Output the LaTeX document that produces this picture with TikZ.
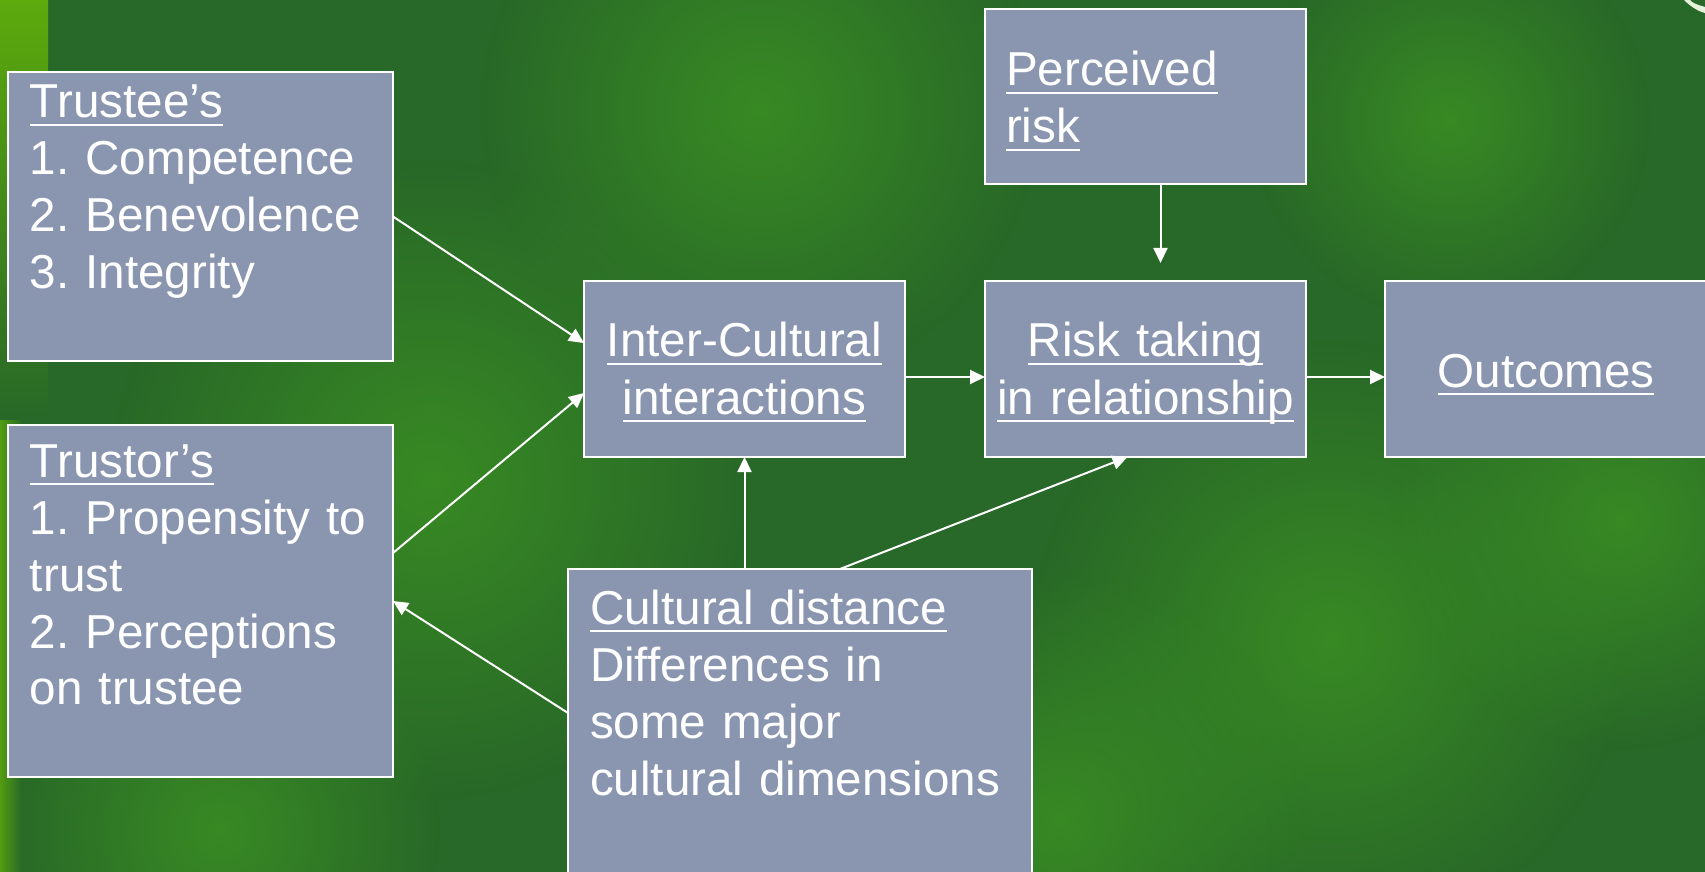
\documentclass[tikz,border=0pt]{standalone}
\usepackage{fontspec}
\setmainfont{Liberation Sans}
\usetikzlibrary{arrows.meta, positioning, fadings}
\definecolor{slide}{RGB}{40, 104, 40}
\definecolor{leaf}{RGB}{56, 138, 36}
\definecolor{lime}{RGB}{92, 170, 12}
\definecolor{boxblue}{RGB}{138, 150, 176}
% underlined heading line, rule sitting just under the baseline
\newcommand{\hdr}[1]{\leavevmode\setbox0\hbox{#1}\rlap{\rule[-4pt]{\wd0}{1pt}}\box0}
\tikzfading[name=glow, inner color=transparent!0, outer color=transparent!100]
\frenchspacing

\begin{document}
\begin{tikzpicture}[
    x=0.5pt, y=-0.5pt,
    block/.style={rectangle, draw=white, line width=1pt, fill=boxblue, text=white, outer sep=0pt, inner ysep=0pt, font=\fontsize{23.8pt}{28.5pt}\selectfont},
    listbox/.style={block, align=left, inner xsep=11pt},
    midbox/.style={block, align=center, inner xsep=2pt, text width=156.5pt, text height=38pt, text depth=50pt},
    arrow/.style={-{Triangle[length=7.5pt, width=7pt]}, white, line width=1pt}
]
    \useasboundingbox (0,0) rectangle (1705,872);

    % green backdrop
    \fill[slide] (0,0) rectangle (1705,872);
    \fill[leaf, path fading=glow] (430,480) circle (320);
    \fill[leaf, path fading=glow] (760,110) circle (280);
    \fill[leaf, path fading=glow] (1330,640) circle (300);
    \fill[leaf, path fading=glow] (1620,520) circle (230);
    \fill[leaf, path fading=glow] (1060,820) circle (250);
    \fill[leaf, path fading=glow] (220,830) circle (220);
    \fill[leaf, path fading=glow] (1450,120) circle (200);
    \shade[top color=lime, bottom color=slide] (0,0) rectangle (48,420);
    \shade[left color=lime!80!slide, right color=slide] (0,420) rectangle (22,872);
    % leaf tip curling in at the top right
    \fill[white!85!lime] (1684,0) .. controls (1692,8) and (1700,12) .. (1705,13) -- (1705,7) .. controls (1698,5) and (1692,3) .. (1690,0) -- cycle;

    \node[listbox, text width=170.5pt, text height=23pt, text depth=121.5pt, anchor=north west] (trustee) at (8,72)
        {\hdr{Trustee’s}\\1. Competence\\2. Benevolence\\3. Integrity};
    \node[listbox, text width=170.5pt, text height=26pt, text depth=150pt, below right=32pt and 0pt of trustee.south west] (trustor)
        {\hdr{Trustor’s}\\1. Propensity to\\trust\\2. Perceptions\\on trustee};
    \node[midbox, anchor=north west] (inter) at (584,281) {\hdr{Inter-Cultural}\\\hdr{interactions}};
    \node[midbox, right=40pt of inter] (risk) {\hdr{Risk taking}\\\hdr{in relationship}};
    \node[midbox, text width=157pt, text height=53pt, text depth=35pt, right=39.5pt of risk] (outcomes) {\hdr{Outcomes}};
    \node[listbox, text width=139.5pt, inner xsep=10.5pt, text height=38.5pt, text depth=49pt, above=48.5pt of risk] (perceived)
        {\hdr{Perceived}\\\hdr{risk}};
    \node[listbox, text width=210pt, text height=27.5pt, text depth=128pt, below right=56pt and -8pt of inter.south west] (cultural)
        {\hdr{Cultural distance}\\Differences in\\some major\\cultural dimensions};

    \draw[arrow] (trustee.east) -- ([yshift=13pt]inter.west);
    \draw[arrow] ([yshift=24pt]trustor.east) -- ([yshift=-12pt]inter.west);
    \draw[arrow] ([yshift=-72pt]cultural.north west) -- (trustor.east);
    \draw[arrow] (cultural.north -| inter.south) -- (inter.south);
    \draw[arrow] ([xshift=136pt]cultural.north west) -- ([xshift=-9pt]risk.south);
    \draw[arrow] ([yshift=-4pt]inter.east) -- ([yshift=-4pt]risk.west);
    \draw[arrow] ([yshift=-4pt]risk.east) -- ([yshift=-4pt]outcomes.west);
    \draw[arrow] ([xshift=7.5pt]perceived.south) -- ([xshift=7.5pt, yshift=9pt]risk.north);
\end{tikzpicture}
\end{document}
